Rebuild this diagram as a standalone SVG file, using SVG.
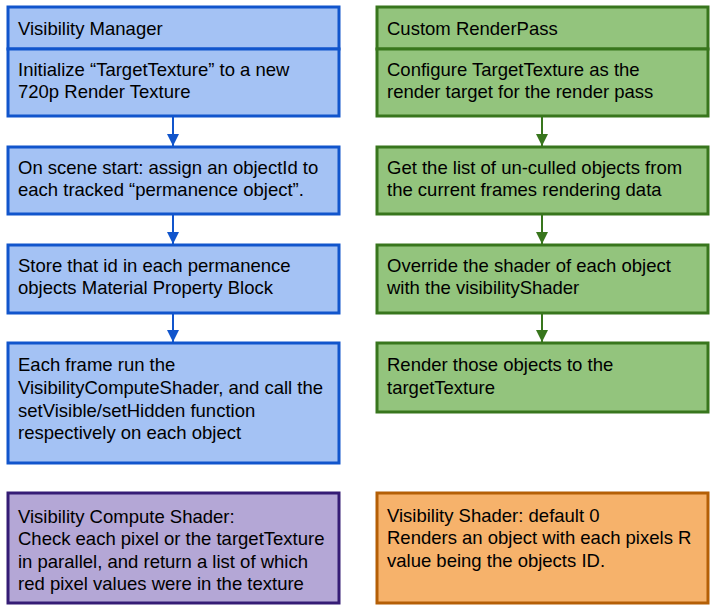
<svg xmlns="http://www.w3.org/2000/svg" width="716" height="610" viewBox="0 0 716 610">
<style>
text{font-family:"Liberation Sans",Arial,sans-serif;font-size:18.5px;fill:#000}
.b{fill:#a4c2f4;stroke:#1155cc;stroke-width:3}
.g{fill:#93c47d;stroke:#38761d;stroke-width:3}
.p{fill:#b4a7d6;stroke:#351c75;stroke-width:3}
.o{fill:#f6b26b;stroke:#b45f06;stroke-width:3}
.cb{stroke:#1155cc;stroke-width:2;fill:none}
.cg{stroke:#38761d;stroke-width:2;fill:none}
</style>
<defs>
<marker id="ab" viewBox="0 0 10 10" refX="10" refY="5" markerWidth="6" markerHeight="6" markerUnits="strokeWidth" orient="auto"><path d="M0,0 L10,5 L0,10 z" fill="#1155cc"/></marker>
<marker id="ag" viewBox="0 0 10 10" refX="10" refY="5" markerWidth="6" markerHeight="6" markerUnits="strokeWidth" orient="auto"><path d="M0,0 L10,5 L0,10 z" fill="#38761d"/></marker>
</defs>
<g id="connectors">
<path class="cb" d="M173,116 V146" marker-end="url(#ab)"/>
<path class="cb" d="M173,214 V244" marker-end="url(#ab)"/>
<path class="cb" d="M173,313 V342" marker-end="url(#ab)"/>
<path class="cg" d="M542,116 V146" marker-end="url(#ag)"/>
<path class="cg" d="M542,214 V244" marker-end="url(#ag)"/>
<path class="cg" d="M542,313 V342" marker-end="url(#ag)"/>
</g>
<g id="vm-title"><rect class="b" x="8" y="7" width="331" height="42"/><text x="18" y="35">Visibility Manager</text></g>
<g id="vm-init"><rect class="b" x="8" y="49" width="331" height="67"/><text x="18" y="76">Initialize “TargetTexture” to a new</text><text x="18" y="98">720p Render Texture</text></g>
<g id="vm-assign"><rect class="b" x="8" y="147" width="331" height="67"/><text x="18" y="174">On scene start: assign an objectId to</text><text x="18" y="196">each tracked “permanence object”.</text></g>
<g id="vm-store"><rect class="b" x="8" y="245" width="331" height="68"/><text x="18" y="272">Store that id in each permanence</text><text x="18" y="294">objects Material Property Block</text></g>
<g id="vm-frame"><rect class="b" x="8" y="343" width="331" height="120"/><text x="18" y="371">Each frame run the</text><text x="18" y="394">VisibilityComputeShader, and call the</text><text x="18" y="417">setVisible/setHidden function</text><text x="18" y="439">respectively on each object</text></g>
<g id="rp-title"><rect class="g" x="377" y="7" width="331" height="42"/><text x="387" y="35">Custom RenderPass</text></g>
<g id="rp-config"><rect class="g" x="377" y="49" width="331" height="67"/><text x="387" y="76">Configure TargetTexture as the</text><text x="387" y="98">render target for the render pass</text></g>
<g id="rp-list"><rect class="g" x="377" y="147" width="331" height="67"/><text x="387" y="174">Get the list of un-culled objects from</text><text x="387" y="196">the current frames rendering data</text></g>
<g id="rp-override"><rect class="g" x="377" y="245" width="331" height="68"/><text x="387" y="272">Override the shader of each object</text><text x="387" y="294">with the visibilityShader</text></g>
<g id="rp-render"><rect class="g" x="377" y="343" width="331" height="69"/><text x="387" y="371">Render those objects to the</text><text x="387" y="394">targetTexture</text></g>
<g id="compute-shader"><rect class="p" x="8" y="493" width="331" height="110"/><text x="18" y="523">Visibility Compute Shader:</text><text x="18" y="545">Check each pixel or the targetTexture</text><text x="18" y="568">in parallel, and return a list of which</text><text x="18" y="590">red pixel values were in the texture</text></g>
<g id="visibility-shader"><rect class="o" x="377" y="493" width="331" height="110"/><text x="387" y="522">Visibility Shader: default 0</text><text x="387" y="544">Renders an object with each pixels R</text><text x="387" y="567">value being the objects ID.</text></g>
</svg>
